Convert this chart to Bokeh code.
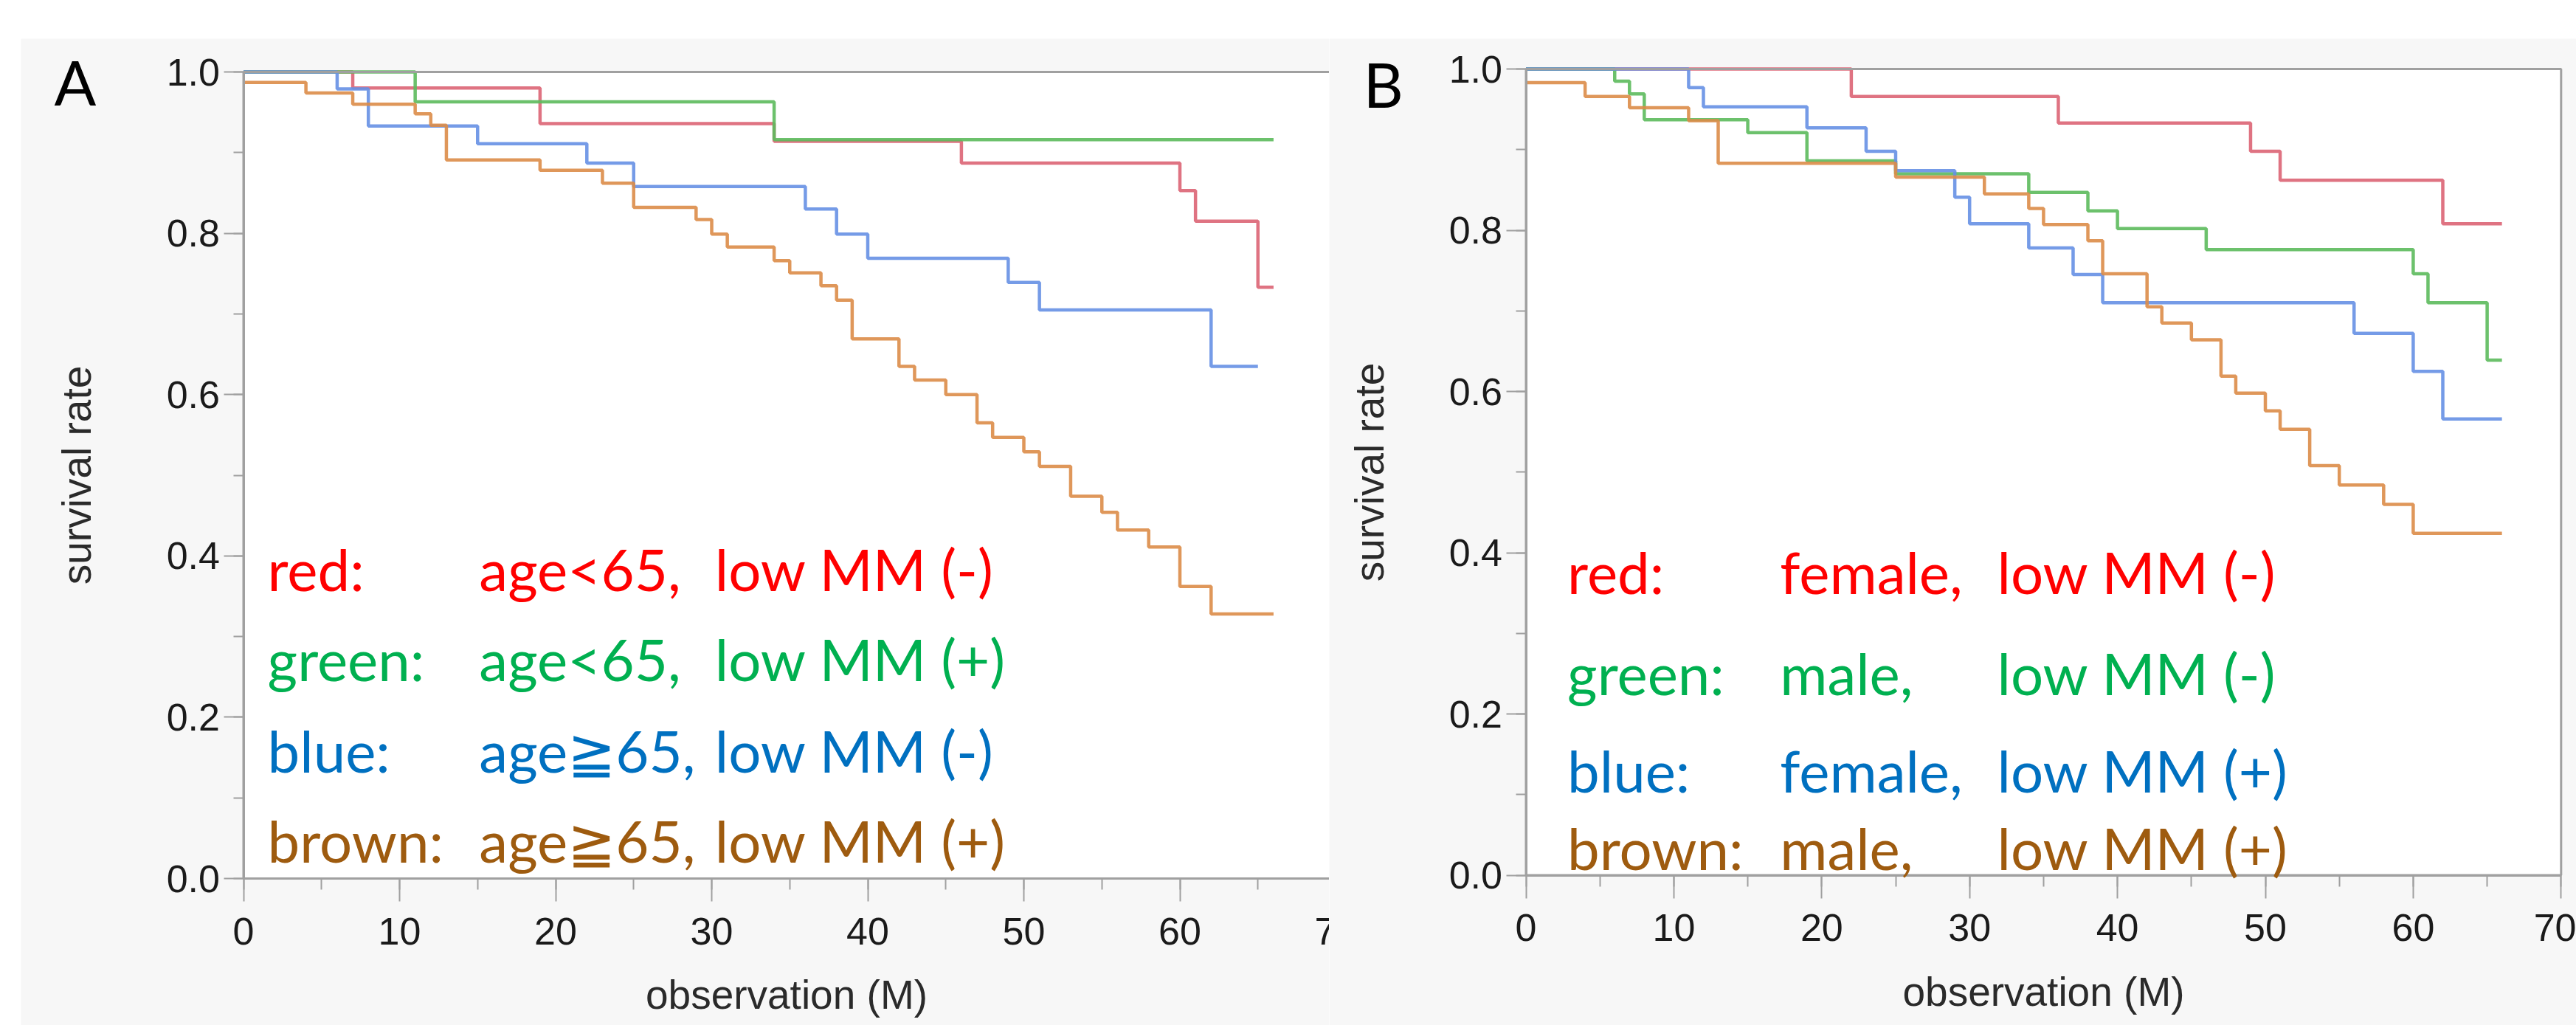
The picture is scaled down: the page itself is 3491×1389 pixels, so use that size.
from bokeh.plotting import figure
from bokeh.models import Range1d, SingleIntervalTicker, NumeralTickFormatter, Label, Spacer
from bokeh.layouts import row, column
from bokeh.embed import file_html
from bokeh.resources import INLINE

# ---------------- data ----------------
# Panel A: age / low MM
A_red_t = [0, 7, 19, 34, 46, 60, 61, 65, 66]
A_red_s = [1.0, 0.980, 0.936, 0.914, 0.887, 0.853, 0.815, 0.733, 0.733]
A_green_t = [0, 11, 34, 66]
A_green_s = [1.0, 0.963, 0.916, 0.916]
A_blue_t = [0, 6, 8, 15, 22, 25, 36, 38, 40, 49, 51, 62, 65]
A_blue_s = [1.0, 0.979, 0.933, 0.911, 0.887, 0.858, 0.830, 0.799, 0.769, 0.739, 0.705, 0.635, 0.635]
A_brown_t = [0, 4, 7, 11, 12, 13, 19, 23, 25, 29, 30, 31, 34, 35, 37, 38, 39, 42, 43, 45,
             47, 48, 50, 51, 53, 55, 56, 58, 60, 62, 66]
A_brown_s = [0.987, 0.974, 0.960, 0.948, 0.934, 0.891, 0.878, 0.862, 0.832, 0.817, 0.799,
             0.783, 0.766, 0.751, 0.735, 0.717, 0.669, 0.635, 0.618, 0.600, 0.565, 0.547,
             0.529, 0.511, 0.474, 0.454, 0.432, 0.411, 0.362, 0.328, 0.328]

# Panel B: sex / low MM
B_red_t = [0, 22, 36, 49, 51, 62, 66]
B_red_s = [1.0, 0.966, 0.933, 0.898, 0.862, 0.808, 0.808]
B_green_t = [0, 6, 7, 8, 15, 19, 25, 34, 38, 40, 46, 60, 61, 65, 66]
B_green_s = [1.0, 0.985, 0.969, 0.937, 0.921, 0.886, 0.870, 0.847, 0.824, 0.802, 0.776,
             0.746, 0.710, 0.639, 0.639]
B_blue_t = [0, 11, 12, 19, 23, 25, 29, 30, 34, 37, 39, 56, 60, 62, 66]
B_blue_s = [1.0, 0.977, 0.953, 0.927, 0.898, 0.874, 0.841, 0.808, 0.778, 0.745, 0.710,
            0.672, 0.625, 0.566, 0.566]
B_brown_t = [0, 4, 7, 11, 13, 25, 31, 34, 35, 38, 39, 42, 43, 45, 47, 48, 50, 51, 53, 55,
             58, 60, 66]
B_brown_s = [0.983, 0.966, 0.952, 0.936, 0.883, 0.866, 0.845, 0.827, 0.807, 0.787, 0.746,
             0.705, 0.685, 0.664, 0.619, 0.598, 0.576, 0.553, 0.508, 0.484, 0.460, 0.424,
             0.424]

legend_keys = ["red:", "green:", "blue:", "brown:"]
A_desc1 = ["age<65,", "age<65,", "age≧65,", "age≧65,"]
A_desc2 = ["low MM (-)", "low MM (+)", "low MM (-)", "low MM (+)"]
B_desc1 = ["female,", "male,", "female,", "male,"]
B_desc2 = ["low MM (-)", "low MM (-)", "low MM (+)", "low MM (+)"]

x_label = "observation (M)"
y_label = "survival rate"
X_MAX = 70      # observation axis 0..70 months
Y_MAX = 1.0     # survival rate 0..1

# ---------------- styles ----------------
CURVE_COLORS = ["#dc6474", "#5cba5c", "#6690e4", "#dc8c48"]
TEXT_COLORS = ["#ff0000", "#00b050", "#0070c0", "#9e5b0f"]
PANEL_BG = "#f7f7f7"
AXIS_GREY = "#a0a0a0"
TICK_FONT = "Liberation Sans"
LEG_FONT = "Lato"
FIG_H = 1337


def make_panel(width, x_range, y_range, ylabel_standoff):
    p = figure(width=width, height=FIG_H, x_range=Range1d(*x_range), y_range=Range1d(*y_range),
               output_backend="svg", toolbar_location=None,
               min_border_left=0, min_border_right=0, min_border_top=0, min_border_bottom=0)
    p.title.visible = False
    p.border_fill_color = PANEL_BG
    p.background_fill_color = PANEL_BG
    p.outline_line_color = None
    p.grid.visible = False
    # white plotting area
    p.quad(left=[0], right=[X_MAX], bottom=[0], top=[Y_MAX], fill_color="white", line_color=None)
    # axes drawn at the data origin, inside the frame
    p.xaxis.fixed_location = 0
    p.yaxis.fixed_location = 0
    p.xaxis.bounds = (0, X_MAX)
    p.yaxis.bounds = (0, Y_MAX)
    p.xaxis.ticker = SingleIntervalTicker(interval=10, num_minor_ticks=2)
    p.yaxis.ticker = SingleIntervalTicker(interval=0.2, num_minor_ticks=2)
    p.yaxis.formatter = NumeralTickFormatter(format="0.0")
    for ax in (p.xaxis, p.yaxis):
        ax.axis_line_color = AXIS_GREY
        ax.axis_line_width = 3
        ax.major_tick_line_color = AXIS_GREY
        ax.minor_tick_line_color = AXIS_GREY
        ax.major_tick_line_width = 2
        ax.minor_tick_line_width = 2
        ax.major_tick_in = 0
        ax.minor_tick_in = 0
        ax.major_label_text_font = TICK_FONT
        ax.major_label_text_font_size = "52px"
        ax.major_label_text_color = "#1a1a1a"
        ax.axis_label_text_font = TICK_FONT
        ax.axis_label_text_font_size = "55px"
        ax.axis_label_text_font_style = "normal"
        ax.axis_label_text_color = "#2a2a2a"
    p.xaxis.major_tick_out = 31
    p.xaxis.minor_tick_out = 15
    p.yaxis.major_tick_out = 27
    p.yaxis.minor_tick_out = 14
    p.xaxis.major_label_standoff = 22
    p.yaxis.major_label_standoff = 5
    p.xaxis.axis_label = x_label
    p.yaxis.axis_label = y_label
    p.xaxis.axis_label_standoff = 34
    p.yaxis.axis_label_standoff = ylabel_standoff
    return p


def add_curves(p, series):
    for (t, s), c in zip(series, CURVE_COLORS):
        p.step(t, s, mode="after", line_color=c, line_width=4.5, line_alpha=0.9)
    # plot-area frame drawn over the curves (top edge hides the 1.0 segments)
    p.quad(left=[0], right=[X_MAX], bottom=[0], top=[Y_MAX], fill_color=None,
           line_color=AXIS_GREY, line_width=3)


def add_legend(p, xs, ys, desc1, desc2):
    for i in range(4):
        for x, txt in zip(xs, [legend_keys[i], desc1[i], desc2[i]]):
            p.add_layout(Label(x=x, y=ys[i], text=txt, text_font=LEG_FONT,
                               text_font_size="78px", text_color=TEXT_COLORS[i],
                               text_baseline="alphabetic", text_align="left"))


# Panel A : canvas page-x 28..1801, page-y 52..1389; x=0 at 329.5 (21.15 px/unit),
# y=0 at 1190 and y=1 at 97
pA = make_panel(1773, (-301.5 / 21.15, 1471.5 / 21.15),
                ((1190 - 1389) / 1093.0, (1190 - 52) / 1093.0), 88)
add_curves(pA, [(A_red_t, A_red_s), (A_green_t, A_green_s),
                (A_blue_t, A_blue_s), (A_brown_t, A_brown_s)])
add_legend(pA, [1.54, 15.1, 30.2], [0.384, 0.272, 0.159, 0.047], A_desc1, A_desc2)
pA.add_layout(Label(x=-12.13, y=0.988, text="A", text_font=LEG_FONT, text_font_size="84px",
                    text_color="black", text_baseline="alphabetic"))
pA.add_layout(Label(x=X_MAX, y=0, y_offset=-53, text="70", text_font=TICK_FONT,
                    text_font_size="52px", text_color="#1a1a1a",
                    text_align="center", text_baseline="top"))

# Panel B : canvas page-x 1801..3491; x=0 at 2067.5 (20.04 px/unit),
# y=0 at 1185.5 and y=1 at 93
pB = make_panel(1690, ((1801 - 2067.5) / 20.04, (3491 - 2067.5) / 20.04),
                ((1185.5 - 1389) / 1092.5, (1185.5 - 52) / 1092.5), 74)
add_curves(pB, [(B_red_t, B_red_s), (B_green_t, B_green_s),
                (B_blue_t, B_blue_s), (B_brown_t, B_brown_s)])
add_legend(pB, [2.8, 17.18, 31.86], [0.376, 0.251, 0.130, 0.034], B_desc1, B_desc2)
pB.add_layout(Label(x=-11.0, y=0.982, text="B", text_font=LEG_FONT, text_font_size="84px",
                    text_color="black", text_baseline="alphabetic"))

layout = column(Spacer(width=3491, height=52), row(Spacer(width=28, height=FIG_H), pA, pB))

open("out.html", "w").write(file_html(layout, INLINE))
